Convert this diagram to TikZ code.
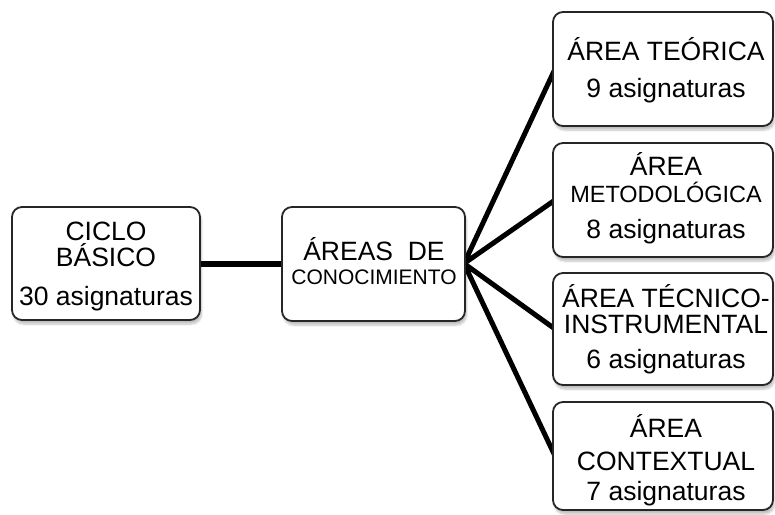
\documentclass[tikz,border=0pt]{standalone}
\usepackage{fontspec}
\setmainfont{Liberation Sans}
\usetikzlibrary{shadows.blur}
\definecolor{edge}{HTML}{262626}
\tikzset{
  box/.style={draw=edge, line width=1.8pt, rounded corners=10pt, fill=white,
    blur shadow={shadow xshift=1.5pt, shadow yshift=-4pt, shadow blur steps=6, shadow opacity=25}},
  lbl/.style={inner sep=0pt, anchor=base, font=\fontsize{26.5}{26.5}\selectfont},
  lblmid/.style={lbl, font=\fontsize{23.5}{23.5}\selectfont},
  lblsm/.style={lbl, font=\fontsize{21}{21}\selectfont},
  link/.style={line width=6pt, black},
  fan/.style={line width=5pt, black, line join=round}
}
\begin{document}
\begin{tikzpicture}[x=1pt, y=-1pt]
\useasboundingbox (0,0) rectangle (775,514);

% connectors first, so the boxes sit on top of their ends
\coordinate (hub) at (464,263.5);
\coordinate (c1) at (555,69);
\coordinate (c2) at (555,200);
\coordinate (c3) at (555,329);
\coordinate (c4) at (555,456);
\draw[link] (199,264) -- (283,264);
\draw[fan] (c1) -- (hub) -- (c2);
\draw[fan] (c3) -- (hub) -- (c4);

% boxes
\node[box, minimum width=188pt, minimum height=113pt] (ciclo) at (106,263.5) {};
\node[box, minimum width=183pt, minimum height=114pt] (areas) at (373.5,264) {};
\node[box, minimum width=220pt, minimum height=114pt] (teo) at (663,69) {};
\node[box, minimum width=220pt, minimum height=114pt] (met) at (663,200) {};
\node[box, minimum width=220pt, minimum height=112pt] (tec) at (663,329) {};
\node[box, minimum width=220pt, minimum height=108pt] (ctx) at (663,456) {};

% labels
\node[lbl] (cicloA) at (106,240) {CICLO};
\node[lbl] (cicloB) at (106,266) {BÁSICO};
\node[lbl] (cicloN) at (106,305) {30 asignaturas};

\node[lbl] (areasA) at (374,260) {ÁREAS\ \ DE};
\node[lblsm] (areasB) at (374,284) {CONOCIMIENTO};

\node[lbl] (teoA) at (666,60) {ÁREA TEÓRICA};
\node[lbl] (teoN) at (666,97) {9 asignaturas};

\node[lbl] (metA) at (666,175) {ÁREA};
\node[lblmid] (metB) at (666,202) {METODOLÓGICA};
\node[lbl] (metN) at (666,238) {8 asignaturas};

\node[lbl] (tecA) at (666,307) {ÁREA TÉCNICO-};
\node[lbl] (tecB) at (666,333) {INSTRUMENTAL};
\node[lbl] (tecN) at (666,368) {6 asignaturas};

\node[lbl] (ctxA) at (666,437) {ÁREA};
\node[lbl] (ctxB) at (666,470) {CONTEXTUAL};
\node[lbl] (ctxN) at (666,500) {7 asignaturas};
\end{tikzpicture}
\end{document}
